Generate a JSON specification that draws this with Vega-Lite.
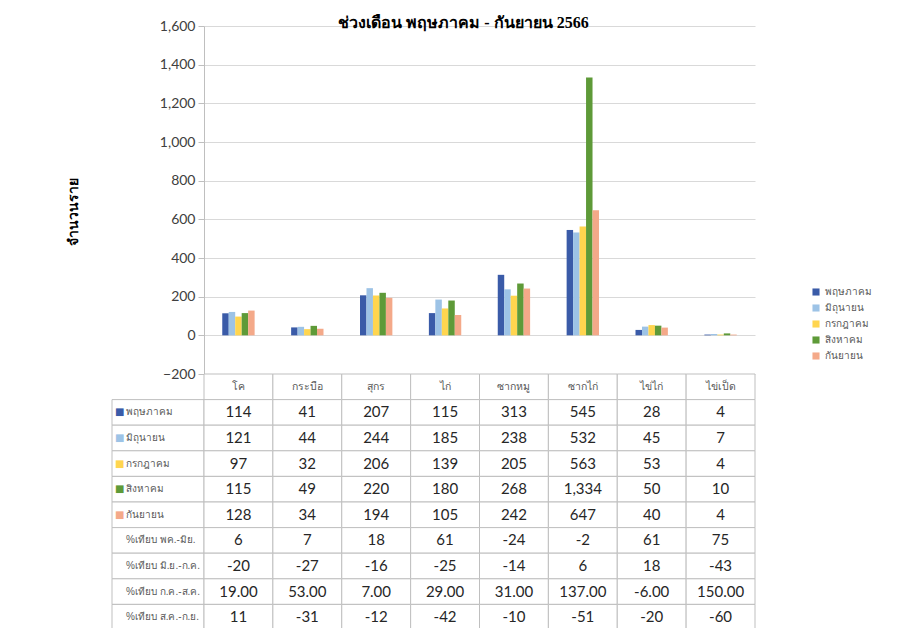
{
  "$schema": "https://vega.github.io/schema/vega-lite/v6.json",
  "background": "white",
  "padding": {"left": 66, "top": 15, "right": 5, "bottom": 0},
  "config": {"view": {"stroke": null}},
  "columns": 2,
  "spacing": 0,
  "bounds": "flush",
  "resolve": {"scale": {"color": "independent", "x": "independent", "y": "independent"}, "axis": {"x": "independent", "y": "independent"}, "legend": {"color": "independent"}},
  "datasets": {
    "bars": [
      {"cat": "โค", "month": "พฤษภาคม", "value": 114},
      {"cat": "กระบือ", "month": "พฤษภาคม", "value": 41},
      {"cat": "สุกร", "month": "พฤษภาคม", "value": 207},
      {"cat": "ไก่", "month": "พฤษภาคม", "value": 115},
      {"cat": "ซากหมู", "month": "พฤษภาคม", "value": 313},
      {"cat": "ซากไก่", "month": "พฤษภาคม", "value": 545},
      {"cat": "ไข่ไก่", "month": "พฤษภาคม", "value": 28},
      {"cat": "ไข่เป็ด", "month": "พฤษภาคม", "value": 4},
      {"cat": "โค", "month": "มิถุนายน", "value": 121},
      {"cat": "กระบือ", "month": "มิถุนายน", "value": 44},
      {"cat": "สุกร", "month": "มิถุนายน", "value": 244},
      {"cat": "ไก่", "month": "มิถุนายน", "value": 185},
      {"cat": "ซากหมู", "month": "มิถุนายน", "value": 238},
      {"cat": "ซากไก่", "month": "มิถุนายน", "value": 532},
      {"cat": "ไข่ไก่", "month": "มิถุนายน", "value": 45},
      {"cat": "ไข่เป็ด", "month": "มิถุนายน", "value": 7},
      {"cat": "โค", "month": "กรกฎาคม", "value": 97},
      {"cat": "กระบือ", "month": "กรกฎาคม", "value": 32},
      {"cat": "สุกร", "month": "กรกฎาคม", "value": 206},
      {"cat": "ไก่", "month": "กรกฎาคม", "value": 139},
      {"cat": "ซากหมู", "month": "กรกฎาคม", "value": 205},
      {"cat": "ซากไก่", "month": "กรกฎาคม", "value": 563},
      {"cat": "ไข่ไก่", "month": "กรกฎาคม", "value": 53},
      {"cat": "ไข่เป็ด", "month": "กรกฎาคม", "value": 4},
      {"cat": "โค", "month": "สิงหาคม", "value": 115},
      {"cat": "กระบือ", "month": "สิงหาคม", "value": 49},
      {"cat": "สุกร", "month": "สิงหาคม", "value": 220},
      {"cat": "ไก่", "month": "สิงหาคม", "value": 180},
      {"cat": "ซากหมู", "month": "สิงหาคม", "value": 268},
      {"cat": "ซากไก่", "month": "สิงหาคม", "value": 1334},
      {"cat": "ไข่ไก่", "month": "สิงหาคม", "value": 50},
      {"cat": "ไข่เป็ด", "month": "สิงหาคม", "value": 10},
      {"cat": "โค", "month": "กันยายน", "value": 128},
      {"cat": "กระบือ", "month": "กันยายน", "value": 34},
      {"cat": "สุกร", "month": "กันยายน", "value": 194},
      {"cat": "ไก่", "month": "กันยายน", "value": 105},
      {"cat": "ซากหมู", "month": "กันยายน", "value": 242},
      {"cat": "ซากไก่", "month": "กันยายน", "value": 647},
      {"cat": "ไข่ไก่", "month": "กันยายน", "value": 40},
      {"cat": "ไข่เป็ด", "month": "กันยายน", "value": 4}
    ],
    "pct": [
      {"cat": "โค", "row": "%เทียบ พค.-มิย.", "txt": "6"},
      {"cat": "กระบือ", "row": "%เทียบ พค.-มิย.", "txt": "7"},
      {"cat": "สุกร", "row": "%เทียบ พค.-มิย.", "txt": "18"},
      {"cat": "ไก่", "row": "%เทียบ พค.-มิย.", "txt": "61"},
      {"cat": "ซากหมู", "row": "%เทียบ พค.-มิย.", "txt": "-24"},
      {"cat": "ซากไก่", "row": "%เทียบ พค.-มิย.", "txt": "-2"},
      {"cat": "ไข่ไก่", "row": "%เทียบ พค.-มิย.", "txt": "61"},
      {"cat": "ไข่เป็ด", "row": "%เทียบ พค.-มิย.", "txt": "75"},
      {"cat": "โค", "row": "%เทียบ มิ.ย.-ก.ค.", "txt": "-20"},
      {"cat": "กระบือ", "row": "%เทียบ มิ.ย.-ก.ค.", "txt": "-27"},
      {"cat": "สุกร", "row": "%เทียบ มิ.ย.-ก.ค.", "txt": "-16"},
      {"cat": "ไก่", "row": "%เทียบ มิ.ย.-ก.ค.", "txt": "-25"},
      {"cat": "ซากหมู", "row": "%เทียบ มิ.ย.-ก.ค.", "txt": "-14"},
      {"cat": "ซากไก่", "row": "%เทียบ มิ.ย.-ก.ค.", "txt": "6"},
      {"cat": "ไข่ไก่", "row": "%เทียบ มิ.ย.-ก.ค.", "txt": "18"},
      {"cat": "ไข่เป็ด", "row": "%เทียบ มิ.ย.-ก.ค.", "txt": "-43"},
      {"cat": "โค", "row": "%เทียบ ก.ค.-ส.ค.", "txt": "19.00"},
      {"cat": "กระบือ", "row": "%เทียบ ก.ค.-ส.ค.", "txt": "53.00"},
      {"cat": "สุกร", "row": "%เทียบ ก.ค.-ส.ค.", "txt": "7.00"},
      {"cat": "ไก่", "row": "%เทียบ ก.ค.-ส.ค.", "txt": "29.00"},
      {"cat": "ซากหมู", "row": "%เทียบ ก.ค.-ส.ค.", "txt": "31.00"},
      {"cat": "ซากไก่", "row": "%เทียบ ก.ค.-ส.ค.", "txt": "137.00"},
      {"cat": "ไข่ไก่", "row": "%เทียบ ก.ค.-ส.ค.", "txt": "-6.00"},
      {"cat": "ไข่เป็ด", "row": "%เทียบ ก.ค.-ส.ค.", "txt": "150.00"},
      {"cat": "โค", "row": "%เทียบ ส.ค.-ก.ย.", "txt": "11"},
      {"cat": "กระบือ", "row": "%เทียบ ส.ค.-ก.ย.", "txt": "-31"},
      {"cat": "สุกร", "row": "%เทียบ ส.ค.-ก.ย.", "txt": "-12"},
      {"cat": "ไก่", "row": "%เทียบ ส.ค.-ก.ย.", "txt": "-42"},
      {"cat": "ซากหมู", "row": "%เทียบ ส.ค.-ก.ย.", "txt": "-10"},
      {"cat": "ซากไก่", "row": "%เทียบ ส.ค.-ก.ย.", "txt": "-51"},
      {"cat": "ไข่ไก่", "row": "%เทียบ ส.ค.-ก.ย.", "txt": "-20"},
      {"cat": "ไข่เป็ด", "row": "%เทียบ ส.ค.-ก.ย.", "txt": "-60"}
    ],
    "cats": [
      {"cat": "โค"}, {"cat": "กระบือ"}, {"cat": "สุกร"}, {"cat": "ไก่"},
      {"cat": "ซากหมู"}, {"cat": "ซากไก่"}, {"cat": "ไข่ไก่"}, {"cat": "ไข่เป็ด"}
    ],
    "rows": [
      {"row": "พฤษภาคม", "kind": "m"},
      {"row": "มิถุนายน", "kind": "m"},
      {"row": "กรกฎาคม", "kind": "m"},
      {"row": "สิงหาคม", "kind": "m"},
      {"row": "กันยายน", "kind": "m"},
      {"row": "%เทียบ พค.-มิย.", "kind": "p"},
      {"row": "%เทียบ มิ.ย.-ก.ค.", "kind": "p"},
      {"row": "%เทียบ ก.ค.-ส.ค.", "kind": "p"},
      {"row": "%เทียบ ส.ค.-ก.ย.", "kind": "p"}
    ]
  },
  "concat": [
    {
      "width": 92,
      "height": 348,
      "data": {"values": [{}]},
      "mark": {"type": "text"},
      "encoding": {"text": {"value": ""}}
    },
    {
      "width": 551,
      "height": 348,
      "data": {"name": "bars"},
      "title": {"text": "ช่วงเดือน พฤษภาคม - กันยายน 2566", "fontSize": 16, "fontWeight": "bold", "font": "Liberation Serif", "color": "#000000", "offset": -12, "dx": -16, "anchor": "middle"},
      "mark": {"type": "bar"},
      "encoding": {
        "x": {"field": "cat", "type": "nominal", "sort": ["โค", "กระบือ", "สุกร", "ไก่", "ซากหมู", "ซากไก่", "ไข่ไก่", "ไข่เป็ด"], "axis": null, "scale": {"paddingInner": 0.53, "paddingOuter": 0.265}},
        "xOffset": {"field": "month", "type": "nominal", "sort": ["พฤษภาคม", "มิถุนายน", "กรกฎาคม", "สิงหาคม", "กันยายน"], "scale": {"paddingInner": 0, "paddingOuter": 0}},
        "y": {"field": "value", "type": "quantitative", "scale": {"domain": [-200, 1600], "nice": false, "zero": false},
          "axis": {"title": "จำนวนราย", "titleY": 185, "values": [-200, 0, 200, 400, 600, 800, 1000, 1200, 1400, 1600], "format": ",.0f", "labelFont": "Lato", "labelFontSize": 14, "labelColor": "#404040", "tickSize": 6, "tickColor": "#BFBFBF", "domainColor": "#BFBFBF", "gridColor": "#D9D9D9", "labelPadding": 3, "titleFontSize": 14, "titleFontWeight": "bold", "titleColor": "#000000", "titlePadding": 79}},
        "color": {"field": "month", "type": "nominal", "sort": ["พฤษภาคม", "มิถุนายน", "กรกฎาคม", "สิงหาคม", "กันยายน"],
          "scale": {"domain": ["พฤษภาคม", "มิถุนายน", "กรกฎาคม", "สิงหาคม", "กันยายน"], "range": ["#3A5BA8", "#9DC3E6", "#FFD54F", "#5E9A38", "#F4A989"]},
          "legend": {"title": null, "orient": "none", "legendX": 607, "legendY": 261, "symbolType": "square", "symbolSize": 50, "symbolStrokeWidth": 0, "labelFontSize": 10, "labelColor": "#595959", "rowPadding": 6}}
      }
    },
    {
      "width": 92,
      "height": 256,
      "data": {"name": "rows"},
      "encoding": {
        "y": {"field": "row", "type": "nominal", "axis": null,
          "scale": {"domain": ["h", "พฤษภาคม", "มิถุนายน", "กรกฎาคม", "สิงหาคม", "กันยายน", "%เทียบ พค.-มิย.", "%เทียบ มิ.ย.-ก.ค.", "%เทียบ ก.ค.-ส.ค.", "%เทียบ ส.ค.-ก.ย."], "paddingInner": 0, "paddingOuter": 0}}
      },
      "layer": [
        {"mark": {"type": "rect", "fill": "white", "stroke": "#BFBFBF", "strokeWidth": 1}},
        {"mark": {"type": "text", "align": "left", "dx": -32, "fontSize": 10, "color": "#595959"}, "encoding": {"text": {"field": "row"}}},
        {"transform": [{"filter": "datum.kind == 'm'"}],
          "mark": {"type": "text", "align": "left", "dx": -43, "fontSize": 10, "font": "DejaVu Sans", "text": "■"},
          "encoding": {"color": {"field": "row", "type": "nominal", "legend": null,
            "scale": {"domain": ["พฤษภาคม", "มิถุนายน", "กรกฎาคม", "สิงหาคม", "กันยายน"], "range": ["#3A5BA8", "#9DC3E6", "#FFD54F", "#5E9A38", "#F4A989"]}}}}
      ]
    },
    {
      "width": 551,
      "height": 256,
      "encoding": {
        "x": {"field": "cat", "type": "nominal", "sort": ["โค", "กระบือ", "สุกร", "ไก่", "ซากหมู", "ซากไก่", "ไข่ไก่", "ไข่เป็ด"], "axis": null, "scale": {"paddingInner": 0, "paddingOuter": 0}}
      },
      "layer": [
        {"data": {"name": "cats"},
          "layer": [
            {"mark": {"type": "rect", "fill": "white", "stroke": "#BFBFBF"},
              "encoding": {"y": {"datum": "h", "type": "nominal", "axis": null, "scale": {"domain": ["h", "พฤษภาคม", "มิถุนายน", "กรกฎาคม", "สิงหาคม", "กันยายน", "%เทียบ พค.-มิย.", "%เทียบ มิ.ย.-ก.ค.", "%เทียบ ก.ค.-ส.ค.", "%เทียบ ส.ค.-ก.ย."], "paddingInner": 0, "paddingOuter": 0}}}},
            {"mark": {"type": "text", "fontSize": 10.5, "color": "#595959"}, "encoding": {"y": {"datum": "h", "type": "nominal", "axis": null}, "text": {"field": "cat"}}}
          ]},
        {"data": {"name": "bars"},
          "layer": [
            {"mark": {"type": "rect", "fill": "white", "stroke": "#BFBFBF"}, "encoding": {"y": {"field": "month", "type": "nominal", "axis": null}}},
            {"mark": {"type": "text", "fontSize": 15, "font": "Lato", "color": "#262626"}, "encoding": {"y": {"field": "month", "type": "nominal", "axis": null}, "text": {"field": "value", "type": "quantitative", "format": ",.0f"}}}
          ]},
        {"data": {"name": "pct"},
          "layer": [
            {"mark": {"type": "rect", "fill": "white", "stroke": "#BFBFBF"}, "encoding": {"y": {"field": "row", "type": "nominal", "axis": null}}},
            {"mark": {"type": "text", "fontSize": 15, "font": "Lato", "color": "#262626"}, "encoding": {"y": {"field": "row", "type": "nominal", "axis": null}, "text": {"field": "txt"}}}
          ]}
      ]
    }
  ]
}
